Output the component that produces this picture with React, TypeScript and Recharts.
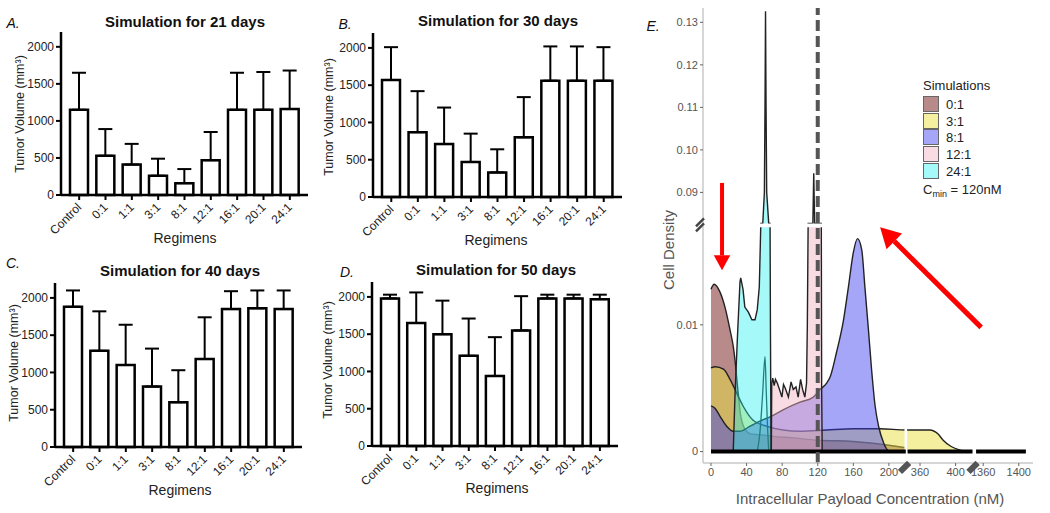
import React from "react";
import {
  BarChart,
  Bar,
  XAxis,
  YAxis,
  ErrorBar,
  ComposedChart,
  Area,
  Line,
  ReferenceLine,
  ReferenceArea,
  ReferenceDot,
} from "recharts";

const FONT = '"Liberation Sans", Arial, Helvetica, sans-serif';

// ---- panels A-D: tumor volume per regimen ----
const regimens = ["Control", "0:1", "1:1", "3:1", "8:1", "12:1", "16:1", "20:1", "24:1"];

const mean21 = [1150, 530, 410, 260, 160, 470, 1150, 1150, 1160];
const sd21 = [500, 360, 280, 230, 190, 380, 500, 510, 520];
const mean30 = [1570, 870, 710, 470, 330, 800, 1560, 1560, 1560];
const sd30 = [440, 550, 490, 380, 310, 540, 460, 460, 450];
const mean40 = [1880, 1290, 1100, 810, 600, 1180, 1850, 1860, 1850];
const sd40 = [220, 530, 540, 510, 430, 560, 240, 240, 250];
const mean50 = [1980, 1650, 1500, 1210, 940, 1550, 1980, 1980, 1970];
const sd50 = [50, 410, 450, 500, 520, 460, 50, 50, 60];

const barYTicks = [0, 500, 1000, 1500, 2000];

// ---- panel E: cell density vs intracellular payload (nM) ----
const x01 = [0, 3.4, 10, 15.7, 21.4, 25, 27, 30, 33, 38, 45, 60, 70, 90, 120, 160, 200, 219];
const d01 = [0.0128, 0.0132, 0.0126, 0.0114, 0.0096, 0.0083, 0.0072, 0.005, 0.003, 0.0018, 0.0014, 0.0013, 0.0012, 0.0011, 0.0009, 0.0008, 0.0005, 0.0003];

const x31 = [0, 4.7, 14, 21.4, 29, 36, 47, 62.6, 81, 100, 130, 160, 190, 219, 346, 371, 380, 386, 395, 405, 413];
const d31 = [0.0066, 0.0067, 0.0065, 0.0057, 0.0046, 0.0036, 0.0025, 0.002, 0.0017, 0.0016, 0.0017, 0.0018, 0.0018, 0.0017, 0.0017, 0.0017, 0.0014, 0.0009, 0.0004, 0.00012, 0];

const x81 = [0, 4.7, 10, 17.6, 25, 32, 44, 55, 68, 81, 100, 115, 122.6, 130, 134, 141, 149, 154.5, 160, 164.7, 169.5, 173, 177, 180.5, 184.5, 188.4, 194, 199, 204];
const d81 = [0.0036, 0.0034, 0.0028, 0.002, 0.0016, 0.0016, 0.002, 0.0024, 0.0028, 0.0033, 0.0039, 0.0043, 0.0049, 0.0054, 0.0059, 0.0078, 0.0104, 0.013, 0.0157, 0.0168, 0.0159, 0.013, 0.0096, 0.0065, 0.0036, 0.002, 0.0007, 0.0001, 0];

const x121 = [67.8, 68.3, 69.4, 71, 72.5, 74.6, 77, 79.7, 81.5, 83.5, 85.5, 87, 90, 92.5, 95.5, 98, 100.7, 103, 105.5, 107.4, 108.3, 109.2, 114.5, 115.5, 116.5, 124, 124.4, 125];
const d121 = [0, 0.0054, 0.0058, 0.0052, 0.0057, 0.0054, 0.0049, 0.0043, 0.0053, 0.005, 0.0046, 0.0043, 0.0055, 0.0049, 0.0051, 0.0043, 0.0057, 0.0049, 0.0043, 0.0054, 0.01, 0.0827, 0.0827, 0.0945, 0.0827, 0.0827, 0.005, 0];

const x241 = [25, 27, 30, 32.6, 33.4, 36, 38, 42, 46, 49.5, 52, 54.3, 55.5, 56, 58.2, 60, 60.7, 61.1, 61.3, 61.5, 61.9, 62.6, 64.9, 66.4, 66.8, 67.5];
const d241 = [0, 0.0045, 0.0095, 0.0134, 0.0137, 0.0128, 0.0114, 0.011, 0.0104, 0.0104, 0.0112, 0.013, 0.0165, 0.0827, 0.0827, 0.09, 0.11, 0.125, 0.1326, 0.125, 0.11, 0.09, 0.0827, 0.0827, 0.01, 0];

const x241b = [52, 55, 58, 60.7, 62, 63.5, 65];
const d241b = [0, 0.0015, 0.0045, 0.0075, 0.005, 0.002, 0];

const baseSegments = [[0, 219], [346, 419], [1352, 1408]];

const xTickReal = [0, 40, 80, 120, 160, 200, 360, 400, 1360, 1400];
const yTickReal = [0, 0.01, 0.09, 0.1, 0.11, 0.12, 0.13];
const yTickText = ["0", "0.01", "0.09", "0.10", "0.11", "0.12", "0.13"];

const simNames = ["0:1", "3:1", "8:1", "12:1", "24:1"];
const simFill = ["#7f2a2a", "#e8e040", "#3a3af0", "#f0b0c0", "#20f0f0"];
const simOpacity = [0.55, 0.5, 0.45, 0.45, 0.4];
const cmin = 120;

// broken axes: map real values onto the drawn (compressed) coordinate
const toDX = (x: number) => (x <= 300 ? x : x <= 1000 ? x - 125 : x - 1054);
const toDY = (y: number) => {
  if (y <= 0.0177) return y;
  if (y < 0.0827) return 0.0177 + ((y - 0.0177) / 0.065) * 0.0003;
  return 0.018 + (y - 0.0827) * 0.3355;
};

const series = (xs: number[], ys: number[]) => xs.map((x, i) => ({ x: toDX(x), y: toDY(ys[i]) }));

const tint = (hex: string, op: number) => {
  const n = parseInt(hex.slice(1), 16);
  const c = [(n >> 16) & 255, (n >> 8) & 255, n & 255].map((v) => Math.round(255 - op * (255 - v)));
  return `rgb(${c[0]},${c[1]},${c[2]})`;
};

function Txt(props: {
  x: number;
  y: number;
  size: number;
  rotate?: number;
  bold?: boolean;
  italic?: boolean;
  color?: string;
  anchor?: "middle" | "start";
  children: React.ReactNode;
}) {
  const { x, y, size, rotate = 0, bold, italic, color = "#111", anchor = "middle", children } = props;
  return (
    <div
      style={{
        position: "absolute",
        left: x,
        top: y,
        transform: `translate(${anchor === "middle" ? "-50%" : "0"}, -50%) rotate(${rotate}deg)`,
        fontSize: size,
        fontWeight: bold ? 700 : 400,
        fontStyle: italic ? "italic" : "normal",
        color,
        whiteSpace: "nowrap",
        lineHeight: 1,
      }}
    >
      {children}
    </div>
  );
}

const RotTick = (props: any) => {
  const { x, y, payload } = props;
  const ax = x + 3;
  const ay = y + 6;
  return (
    <text x={ax} y={ay} textAnchor="end" fontSize={12} fill="#222" transform={`rotate(-45 ${ax} ${ay})`}>
      {payload.value}
    </text>
  );
};

type Box = { left: number; top: number; width: number; height: number };
type Geo = { axisX: number; topY: number; zeroY: number; xEnd: number };

function BarPanel({ box, geo, means, sds }: { box: Box; geo: Geo; means: number[]; sds: number[] }) {
  const data = regimens.map((r, i) => ({ name: r, v: means[i], err: [0, sds[i]] }));
  const margin = {
    top: geo.topY - box.top,
    left: geo.axisX - box.left - 40,
    right: box.left + box.width - geo.xEnd,
    bottom: box.top + box.height - geo.zeroY - 45,
  };
  return (
    <div style={{ position: "absolute", left: box.left, top: box.top }}>
      <BarChart width={box.width} height={box.height} data={data} margin={margin} barSize={18}>
        <XAxis
          dataKey="name"
          height={45}
          interval={0}
          tick={<RotTick />}
          tickSize={5}
          tickLine={{ stroke: "#000", strokeWidth: 2 }}
          axisLine={{ stroke: "#000", strokeWidth: 2.5 }}
          padding={{ left: 5, right: 5 }}
        />
        <YAxis
          width={40}
          domain={[0, 2200]}
          ticks={barYTicks}
          tickSize={5}
          tick={{ fontSize: 12, fill: "#222" }}
          tickLine={{ stroke: "#000", strokeWidth: 2 }}
          axisLine={{ stroke: "#000", strokeWidth: 2.5 }}
        />
        <Bar dataKey="v" fill="#fff" stroke="#000" strokeWidth={2.5} isAnimationActive={false}>
          <ErrorBar dataKey="err" width={7} stroke="#000" strokeWidth={2} direction="y" />
        </Bar>
      </BarChart>
    </div>
  );
}

const arrowShape = (w: number, head: number) => (p: any) => {
  const { x1, y1, x2, y2 } = p;
  const dx = x2 - x1;
  const dy = y2 - y1;
  const len = Math.hypot(dx, dy) || 1;
  const ux = dx / len;
  const uy = dy / len;
  const bx = x2 - ux * head;
  const by = y2 - uy * head;
  const px = -uy * head * 0.55;
  const py = ux * head * 0.55;
  return (
    <g>
      <line x1={x1} y1={y1} x2={bx} y2={by} stroke="#f00" strokeWidth={w} />
      <polygon points={`${x2},${y2} ${bx + px},${by + py} ${bx - px},${by - py}`} fill="#f00" />
    </g>
  );
};

const xBreakMark = (p: any) => (
  <rect x={p.cx - 3} y={p.cy - 2} width={6} height={13} fill="#555" transform={`rotate(45 ${p.cx} ${p.cy + 4})`} />
);

const yBreakMark = (p: any) => (
  <g stroke="#444" strokeWidth={2.5}>
    <line x1={p.cx - 7} y1={p.cy + 1} x2={p.cx + 1} y2={p.cy - 7} />
    <line x1={p.cx - 7} y1={p.cy + 6} x2={p.cx + 1} y2={p.cy - 2} />
  </g>
);

function DensityPanel() {
  const xs = [x01, x31, x81, x121, x241];
  const ds = [d01, d31, d81, d121, d241];
  const monotone = [true, true, true, false, false];
  const xTicks = xTickReal.map(toDX);
  const yTicks = yTickReal.map(toDY);
  return (
    <div style={{ position: "absolute", left: 640, top: 0 }}>
      <ComposedChart width={410} height={513} margin={{ top: 8, right: 17, left: 23, bottom: 30 }}>
        <XAxis
          type="number"
          dataKey="x"
          domain={[-9, 362]}
          ticks={xTicks}
          allowDataOverflow
          height={20}
          tickSize={3}
          tick={{ fontSize: 11, fill: "#555" }}
          tickFormatter={(v: number) => String(xTickReal[xTicks.indexOf(v)] ?? v)}
          tickLine={{ stroke: "#666" }}
          axisLine={{ stroke: "#c8c8c8", strokeWidth: 1.5 }}
        />
        <YAxis
          type="number"
          dataKey="y"
          domain={[-0.0009, 0.035]}
          ticks={yTicks}
          allowDataOverflow
          width={40}
          tickSize={3}
          tick={{ fontSize: 11, fill: "#555" }}
          tickFormatter={(v: number) => yTickText[yTicks.indexOf(v)] ?? ""}
          tickLine={{ stroke: "#666" }}
          axisLine={{ stroke: "#c8c8c8", strokeWidth: 1.5 }}
        />
        {simNames.map((name, i) => (
          <Area
            key={name}
            name={name}
            data={series(xs[i], ds[i])}
            dataKey="y"
            type={monotone[i] ? "monotone" : "linear"}
            fill={simFill[i]}
            fillOpacity={simOpacity[i]}
            stroke="#222"
            strokeWidth={1.4}
            isAnimationActive={false}
          />
        ))}
        <Line
          data={series(x241b, d241b)}
          dataKey="y"
          type="monotone"
          stroke="#1f7f7f"
          strokeWidth={1.3}
          dot={false}
          isAnimationActive={false}
        />
        {baseSegments.map((s, i) => (
          <Line
            key={i}
            data={s.map((x) => ({ x: toDX(x), y: 0 }))}
            dataKey="y"
            stroke="#000"
            strokeWidth={4}
            dot={false}
            isAnimationActive={false}
          />
        ))}
        <ReferenceArea x1={-8} x2={362} y1={0.0177} y2={0.018} fill="#fff" fillOpacity={1} stroke="none" />
        <ReferenceArea x1={217.5} x2={220.5} y1={-0.0009} y2={0.004} fill="#fff" fillOpacity={1} stroke="none" />
        <ReferenceArea x1={294.5} x2={297.5} y1={-0.0009} y2={0.004} fill="#fff" fillOpacity={1} stroke="none" />
        <ReferenceLine x={toDX(cmin)} stroke="#555" strokeWidth={4} strokeDasharray="11 5" />
        <ReferenceLine
          segment={[{ x: 12.4, y: 0.0212 }, { x: 12.4, y: 0.0143 }]}
          shape={arrowShape(4, 15)}
        />
        <ReferenceLine
          segment={[{ x: 303.7, y: 0.0098 }, { x: 190.1, y: 0.0177 }]}
          shape={arrowShape(5, 20)}
        />
        <ReferenceDot x={218} y={-0.0009} r={1} ifOverflow="visible" shape={xBreakMark} />
        <ReferenceDot x={295} y={-0.0009} r={1} ifOverflow="visible" shape={xBreakMark} />
        <ReferenceDot x={-9} y={0.01785} r={1} ifOverflow="visible" shape={yBreakMark} />
      </ComposedChart>
    </div>
  );
}

export default function App() {
  const panels = [
    { box: { left: 0, top: 0, width: 320, height: 250 }, geo: { axisX: 61, topY: 32, zeroY: 195, xEnd: 308 }, means: mean21, sds: sd21 },
    { box: { left: 320, top: 0, width: 330, height: 250 }, geo: { axisX: 373, topY: 33, zeroY: 197, xEnd: 622 }, means: mean30, sds: sd30 },
    { box: { left: 0, top: 250, width: 320, height: 263 }, geo: { axisX: 55, topY: 283, zeroY: 447, xEnd: 302 }, means: mean40, sds: sd40 },
    { box: { left: 320, top: 250, width: 330, height: 263 }, geo: { axisX: 372, topY: 282, zeroY: 446, xEnd: 618 }, means: mean50, sds: sd50 },
  ];
  return (
    <div
      style={{
        position: "absolute",
        left: 0,
        top: 0,
        width: 1050,
        height: 513,
        background: "#fff",
        fontFamily: FONT,
        overflow: "hidden",
      }}
    >
      {panels.map((p, i) => (
        <BarPanel key={i} box={p.box} geo={p.geo} means={p.means} sds={p.sds} />
      ))}
      <DensityPanel />

      <Txt x={13} y={23} size={14} italic>A.</Txt>
      <Txt x={185} y={21} size={15} bold>Simulation for 21 days</Txt>
      <Txt x={20} y={114} size={12.5} rotate={-90} color="#222">Tumor Volume (mm³)</Txt>
      <Txt x={185} y={238} size={14} color="#222">Regimens</Txt>

      <Txt x={345} y={24} size={14} italic>B.</Txt>
      <Txt x={498} y={20} size={15} bold>Simulation for 30 days</Txt>
      <Txt x={329} y={117} size={12.5} rotate={-90} color="#222">Tumor Volume (mm³)</Txt>
      <Txt x={496} y={240} size={14} color="#222">Regimens</Txt>

      <Txt x={13} y={263} size={14} italic>C.</Txt>
      <Txt x={180} y={270} size={15} bold>Simulation for 40 days</Txt>
      <Txt x={14} y={363} size={12.5} rotate={-90} color="#222">Tumor Volume (mm³)</Txt>
      <Txt x={180} y={490} size={14} color="#222">Regimens</Txt>

      <Txt x={347} y={272} size={14} italic>D.</Txt>
      <Txt x={496} y={269} size={15} bold>Simulation for 50 days</Txt>
      <Txt x={328} y={360} size={12.5} rotate={-90} color="#222">Tumor Volume (mm³)</Txt>
      <Txt x={497} y={488} size={14} color="#222">Regimens</Txt>

      <Txt x={653} y={26} size={14} italic>E.</Txt>
      <Txt x={668} y={250} size={15} rotate={-90} color="#555">Cell Density</Txt>
      <Txt x={870} y={498} size={15} color="#555">Intracellular Payload Concentration (nM)</Txt>

      <Txt x={923} y={85} size={13} anchor="start" color="#222">Simulations</Txt>
      {simNames.map((name, i) => (
        <React.Fragment key={name}>
          <div
            style={{
              position: "absolute",
              left: 923,
              top: 96 + i * 16.7,
              width: 14,
              height: 14,
              background: tint(simFill[i], simOpacity[i]),
              border: "1px solid #666",
            }}
          />
          <Txt x={946} y={104 + i * 16.7} size={13} anchor="start" color="#222">{name}</Txt>
        </React.Fragment>
      ))}
      <Txt x={923} y={191} size={13} anchor="start" color="#222">
        C<sub style={{ fontSize: 9, color: "#222" }}>min</sub> = 120nM
      </Txt>
    </div>
  );
}
